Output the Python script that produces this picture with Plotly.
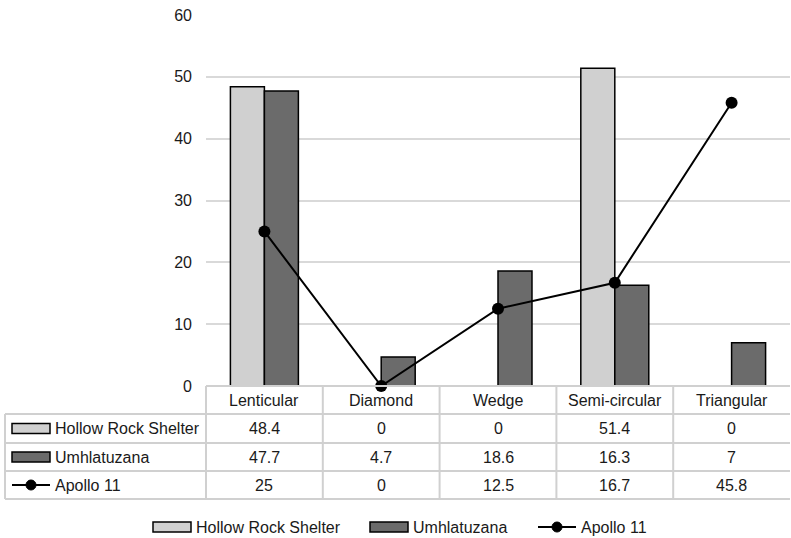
import plotly.graph_objects as go

categories = ["Lenticular", "Diamond", "Wedge", "Semi-circular", "Triangular"]
hollow_rock = [48.4, 0, 0, 51.4, 0]
umhlatuzana = [47.7, 4.7, 18.6, 16.3, 7]
apollo11 = [25, 0, 12.5, 16.7, 45.8]
series_names = ["Hollow Rock Shelter", "Umhlatuzana", "Apollo 11"]
y_ticks = [0, 10, 20, 30, 40, 50, 60]

W, H = 791, 538
ML, MR, MT, MB = 206, 1, 15, 152
PW = W - ML - MR
PH = H - MT - MB
LIGHT = "#d0d0d0"
DARK = "#6b6b6b"
GRID = "#d9d9d9"
TLINE = "#d0d0d0"
TXT = "#1a1a1a"
FONT = "Liberation Sans"


def px(x):
    return (x - ML) / PW


def py(y):
    return (H - MB - y) / PH


fig = go.Figure()
fig.add_trace(go.Bar(x=categories, y=hollow_rock, name=series_names[0],
                     marker=dict(color=LIGHT, line=dict(color="black", width=1.5))))
fig.add_trace(go.Bar(x=categories, y=umhlatuzana, name=series_names[1],
                     marker=dict(color=DARK, line=dict(color="black", width=1.5))))
fig.add_trace(go.Scatter(x=categories, y=apollo11, name=series_names[2], mode="lines+markers",
                         line=dict(color="black", width=2),
                         marker=dict(color="black", size=12), cliponaxis=False))

shapes = []
annotations = []

# table grid lines
row_lines = [414, 443, 471, 499]
shapes.append(dict(type="line", xref="paper", yref="paper", x0=0, x1=1, y0=py(386), y1=py(386),
                   line=dict(color=TLINE, width=2)))
for yl in row_lines:
    shapes.append(dict(type="line", xref="paper", yref="paper", x0=px(5), x1=1, y0=py(yl), y1=py(yl),
                       line=dict(color=TLINE, width=2)))
for i in range(len(categories)):
    shapes.append(dict(type="line", xref="paper", yref="paper", x0=i / len(categories), x1=i / len(categories),
                       y0=py(386), y1=py(499), line=dict(color=TLINE, width=2)))
shapes.append(dict(type="line", xref="paper", yref="paper", x0=px(5), x1=px(5),
                   y0=py(414), y1=py(499), line=dict(color=TLINE, width=2)))

# header labels
for c in categories:
    annotations.append(dict(x=c, xref="x", y=py(400), yref="paper", text=c, showarrow=False,
                            xanchor="center", yanchor="middle",
                            font=dict(family=FONT, size=16, color=TXT)))

rows = [hollow_rock, umhlatuzana, apollo11]
row_centers = [428.5, 457, 485]
for vals, yc in zip(rows, row_centers):
    for c, v in zip(categories, vals):
        annotations.append(dict(x=c, xref="x", y=py(yc), yref="paper", text=f"{v:g}", showarrow=False,
                                xanchor="center", yanchor="middle",
                                font=dict(family=FONT, size=16, color=TXT)))


def key(x0, yc, kind, name):
    if kind == "line":
        shapes.append(dict(type="line", xref="paper", yref="paper", x0=px(x0), x1=px(x0 + 38),
                           y0=py(yc), y1=py(yc), line=dict(color="black", width=2)))
        shapes.append(dict(type="circle", xref="paper", yref="paper", x0=px(x0 + 14), x1=px(x0 + 24),
                           y0=py(yc - 5), y1=py(yc + 5), fillcolor="black", line=dict(color="black", width=1)))
    else:
        shapes.append(dict(type="rect", xref="paper", yref="paper", x0=px(x0), x1=px(x0 + 38),
                           y0=py(yc - 5), y1=py(yc + 5), fillcolor=kind,
                           line=dict(color="black", width=1.5)))
    annotations.append(dict(x=px(x0 + 41), xref="paper", y=py(yc), yref="paper", text=name,
                            showarrow=False, xanchor="left", yanchor="middle",
                            font=dict(family=FONT, size=16, color=TXT)))


kinds = [LIGHT, DARK, "line"]
for name, kind, yc in zip(series_names, kinds, row_centers):
    key(12, yc, kind, name)

# bottom legend
for name, kind, x0 in zip(series_names, kinds, [153, 370, 538]):
    key(x0, 527, kind, name)

fig.update_layout(
    width=W, height=H,
    margin=dict(l=ML, r=MR, t=MT, b=MB),
    paper_bgcolor="white", plot_bgcolor="white",
    barmode="group", bargap=0.418, bargroupgap=0,
    showlegend=False,
    font=dict(family=FONT, size=16, color=TXT),
    xaxis=dict(showticklabels=False, showgrid=False, zeroline=False, showline=False,
               range=[-0.5, 4.5]),
    yaxis=dict(range=[0, 60], tickvals=y_ticks, showgrid=True, gridcolor=GRID, gridwidth=2,
               zeroline=False, showline=False, ticks="", ticklabelstandoff=13,
               tickfont=dict(family=FONT, size=16, color=TXT)),
    shapes=shapes, annotations=annotations,
)

fig.write_html("out.html", config={"displayModeBar": False},
               post_script="document.body.style.margin='0';document.body.style.overflow='hidden';")
